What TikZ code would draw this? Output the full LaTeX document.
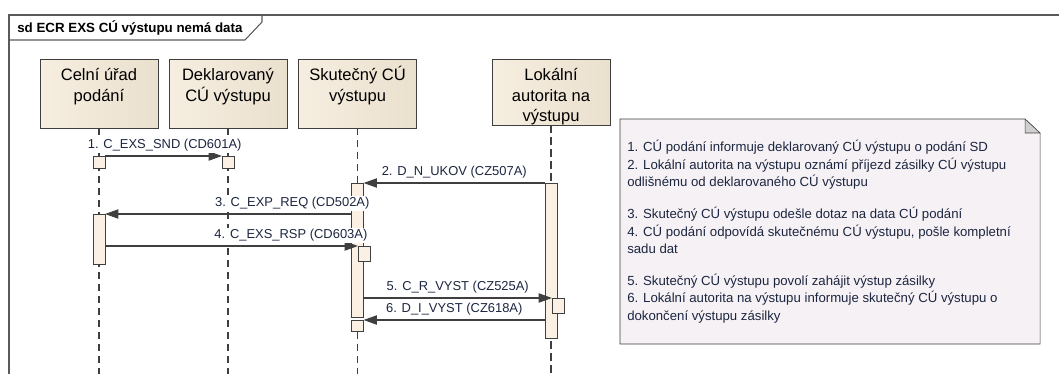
\documentclass[tikz,border=0pt]{standalone}
\usepackage{fontspec}
\setmainfont{Liberation Sans}
\usetikzlibrary{arrows.meta,positioning}

\definecolor{headfill}{HTML}{F6EEE0}
\definecolor{headshade}{HTML}{EAE0CE}
\definecolor{actfill}{HTML}{FAF0E4}
\definecolor{linegray}{HTML}{3F3F3F}
\definecolor{framegray}{HTML}{5A5A5A}
\definecolor{notefill}{HTML}{F6F1F5}
\definecolor{foldfill}{HTML}{CFCFCF}
\definecolor{msgtext}{HTML}{1C2640}

\newcommand{\headtop}{\rule{0pt}{16pt}}

\begin{document}
\begin{tikzpicture}[
  x=0.75pt, y=-0.75pt,
  head/.style={
    draw=linegray,
    left color=headfill,
    right color=headshade,
    align=center,
    anchor=north,
    minimum width=88.5pt,
    minimum height=48.75pt,
    inner sep=0pt,
    font=\fontsize{12.4}{15.4}\selectfont
  },
  act/.style={
    draw=linegray,
    fill=actfill,
    anchor=north,
    minimum width=8.75pt,
    inner sep=0pt
  },
  lifeline/.style={draw=linegray, line width=0.8pt, dash pattern=on 5.5pt off 3.5pt},
  msg/.style={-{Triangle[length=10pt,width=7pt]}, draw=linegray, line width=0.8pt},
  msglabel/.style={font=\fontsize{9.7}{11}\selectfont, text=msgtext, fill=white, inner sep=1pt, above=2pt}
]
\useasboundingbox (0,0) rectangle (1059,374);
\coordinate (bot) at (0,374);

% frame
\draw[framegray, line width=1.2pt] (9,374) -- (9,15) -- (1059,15);
\draw[framegray, line width=0.8pt] (9,40) -- (245,40) -- (262,22) -- (262,15);
\node[anchor=west, font=\bfseries\fontsize{10}{12}\selectfont, inner sep=0pt] (title) at (17,28) {sd ECR EXS CÚ výstupu nemá data};

% lifelines
\node[head] (hC) at (99,59) {\headtop Celní úřad\\podání\\\strut};
\node[head] (hD) at (228,59) {\headtop Deklarovaný\\CÚ výstupu\\\strut};
\node[head] (hS) at (357.5,59) {\headtop Skutečný CÚ\\výstupu\\\strut};
\node[head] (hL) at (551,59) {\headtop Lokální\\autorita na\\výstupu};

\draw[lifeline] (hC) -- (hC |- bot);
\draw[lifeline] (hD) -- (hD |- bot);
\draw[lifeline] (hS) -- (hS |- bot);
\draw[lifeline] (hL) -- (hL |- bot);

% activations
\node[act, minimum height=9pt] (aC1) at (99,156) {};
\node[act, minimum height=9pt] (aD1) at (228,156) {};
\node[act, minimum height=37.5pt] (aC2) at (99,214) {};
\node[act, minimum height=100.5pt] (aS1) at (357.5,183) {};
\node[act, minimum height=11.25pt] (aS2) at (364,246) {};
\node[act, minimum height=8.25pt] (aS3) at (357.5,320) {};
\node[act, minimum height=116.25pt] (aL1) at (551,183) {};
\node[act, minimum height=11.25pt] (aL2) at (558,298) {};

% messages
\draw[msg] (aC1.north east) -- node[msglabel, pos=0.51] {1. C\_EXS\_SND (CD601A)} (aD1.north west);
\draw[msg] (aL1.north west) -- node[msglabel] {2. D\_N\_UKOV (CZ507A)} (aS1.north east);
\draw[msg] (aS1.west |- aC2.north) -- node[msglabel, pos=0.24] {3. C\_EXP\_REQ (CD502A)} (aC2.north east);
\draw[msg] (aC2.east |- aS2.north) -- node[msglabel, pos=0.735] {4. C\_EXS\_RSP (CD603A)} (aS2.north west);
\draw[msg] (aS1.east |- aL2.north) -- node[msglabel] {5. C\_R\_VYST (CZ525A)} (aL2.north west);
\draw[msg] (aL1.west |- aS3.north) -- node[msglabel] {6. D\_I\_VYST (CZ618A)} (aS3.north east);

% note
\draw[linegray, fill=notefill] (620,119) -- (1025,119) -- (1040,133) -- (1040,344) -- (620,344) -- cycle;
\draw[linegray, fill=foldfill] (1025,119) -- (1025,133) -- (1040,133) -- cycle;
\node[anchor=north west, align=left, inner sep=0pt, text=msgtext,
  font=\fontsize{9.9}{13.2}\selectfont] (note) at (627,140) {%
  1. CÚ podání informuje deklarovaný CÚ výstupu o podání SD\\
  2. Lokální autorita na výstupu oznámí příjezd zásilky CÚ výstupu\\
  odlišnému od deklarovaného CÚ výstupu\\[10.5pt]
  3. Skutečný CÚ výstupu odešle dotaz na data CÚ podání\\
  4. CÚ podání odpovídá skutečnému CÚ výstupu, pošle kompletní\\
  sadu dat\\[10.5pt]
  5. Skutečný CÚ výstupu povolí zahájit výstup zásilky\\
  6. Lokální autorita na výstupu informuje skutečný CÚ výstupu o\\
  dokončení výstupu zásilky};
\end{tikzpicture}
\end{document}
